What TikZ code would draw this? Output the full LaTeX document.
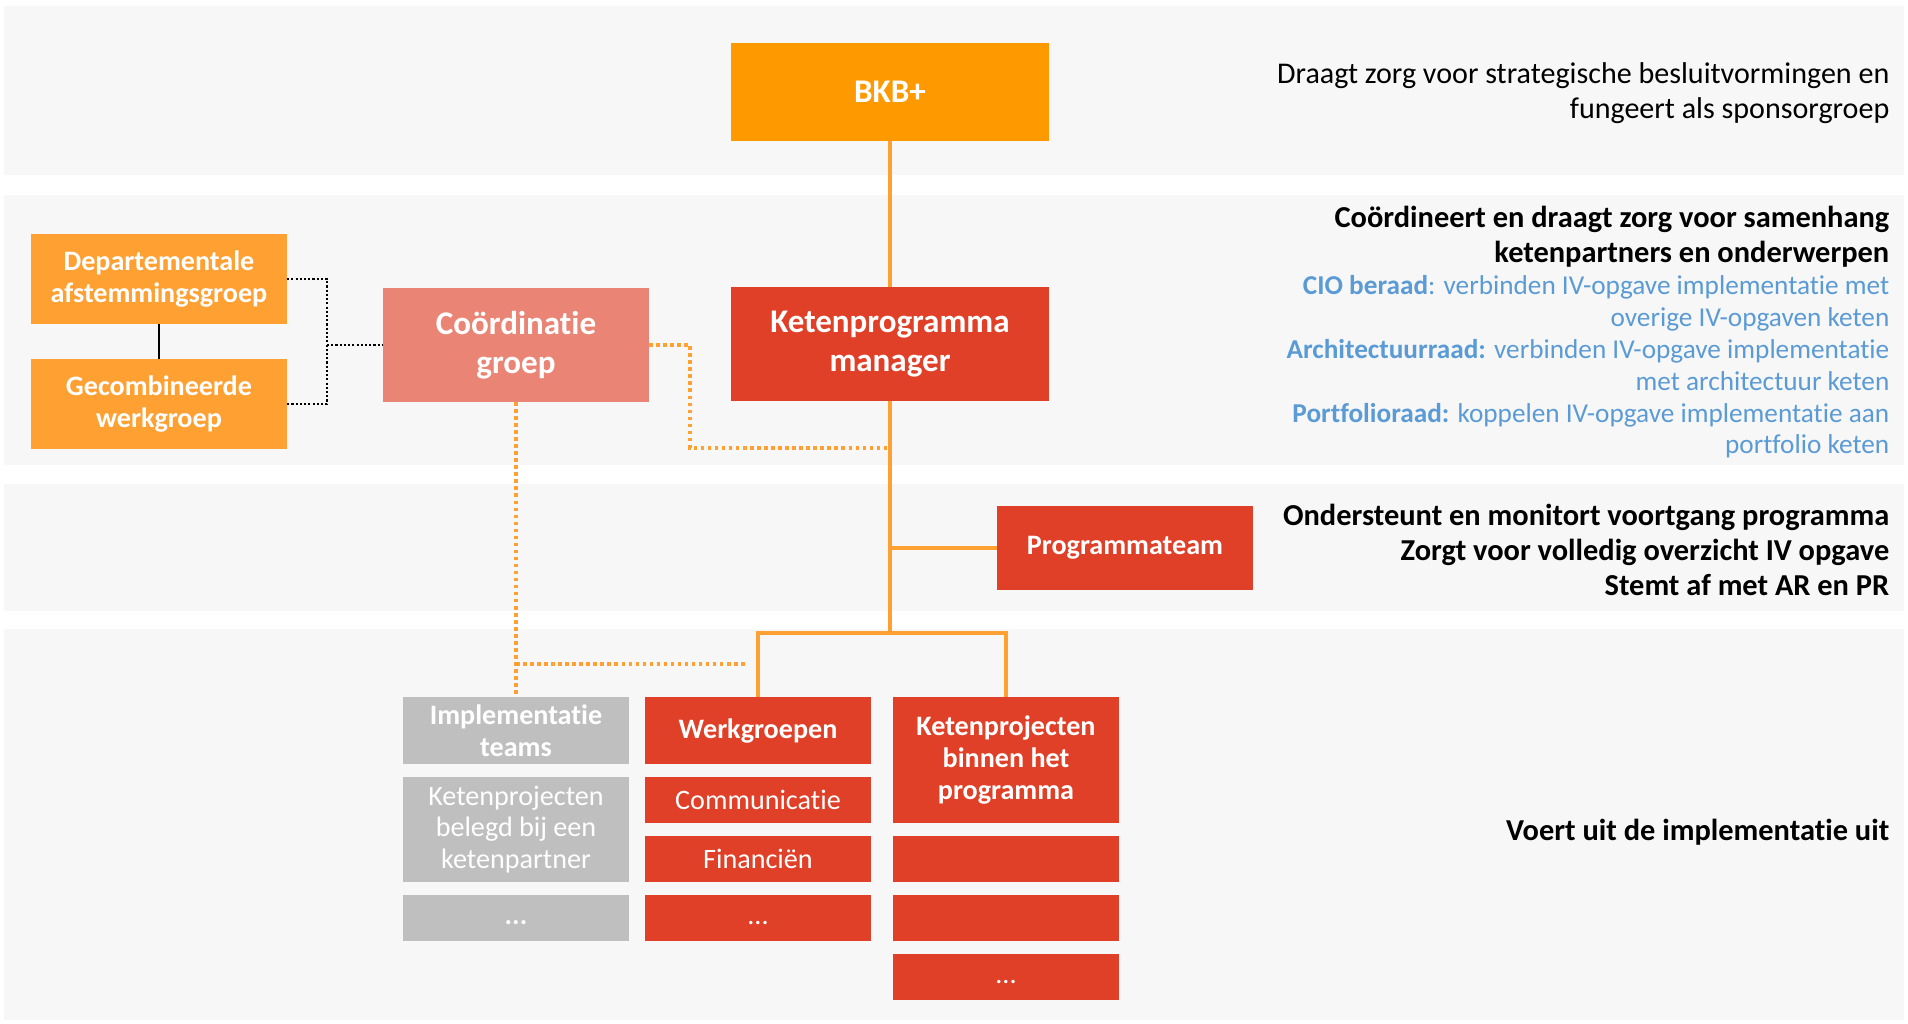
\documentclass[tikz,border=0pt]{standalone}
\usepackage{fontspec}
\setmainfont{Carlito}[Ligatures=NoCommon]
\usepackage{xcolor}
\usetikzlibrary{positioning}

\definecolor{bandgray}{HTML}{F7F7F7}
\definecolor{bkborange}{HTML}{FF9900}
\definecolor{deptorange}{HTML}{FFA033}
\definecolor{coordsalmon}{HTML}{EA8576}
\definecolor{kred}{HTML}{E04028}
\definecolor{kgray}{HTML}{BFBFBF}
\definecolor{lineorange}{HTML}{FFA033}
\definecolor{raadblue}{HTML}{5B9BD5}

\begin{document}
\begin{tikzpicture}[x=0.01cm, y=-0.01cm,
    node distance=0.125cm,
    box/.style={rectangle, inner sep=0pt, outer sep=0pt, text=white, align=center, font=\bfseries\fontsize{8}{9}\selectfont},
    bigbox/.style={box, font=\bfseries\fontsize{9.4}{11}\selectfont},
    redbox/.style={box, fill=kred, minimum width=2.25cm},
    graybox/.style={box, fill=kgray, minimum width=2.25cm},
    lighttext/.style={font=\fontsize{8}{9}\selectfont},
    orangeline/.style={draw=lineorange, line width=1pt},
    dotline/.style={draw=lineorange, line width=0.9pt, dash pattern=on 1pt off 1pt},
    blackdots/.style={draw=black, line width=0.6pt, dash pattern=on 0.6pt off 0.6pt},
    desc/.style={anchor=east, align=right, inner sep=0pt, font=\fontsize{8.55}{9.96}\selectfont},
    descbold/.style={desc, font=\bfseries\fontsize{8.65}{9.96}\selectfont}]
    \useasboundingbox (0,0) rectangle (1908,1024);
    \fill[bandgray] (4,6) rectangle (1904,175);
    \fill[bandgray] (4,195) rectangle (1904,465);
    \fill[bandgray] (4,484) rectangle (1904,611);
    \fill[bandgray] (4,629) rectangle (1904,1020);

    \node[bigbox, fill=bkborange, minimum width=3.18cm, minimum height=0.98cm] (bkb) at (890,92) {BKB+};
    \node[bigbox, fill=kred, minimum width=3.18cm, minimum height=1.13cm] (kpm) at (890,344) {Ketenprogramma\\manager};
    \node[bigbox, fill=coordsalmon, minimum width=2.66cm, minimum height=1.14cm] (coord) at (516,345) {Coördinatie\\groep};
    \node[box, fill=deptorange, minimum width=2.56cm, minimum height=0.9cm] (dept) at (159,279) {Departementale\\afstemmingsgroep};
    \node[box, fill=deptorange, minimum width=2.56cm, minimum height=0.9cm] (gecomb) at (159,404) {Gecombineerde\\werkgroep};
    \node[redbox, minimum width=2.56cm, minimum height=0.84cm] (progteam) at (1125,548) {Programmateam};

    \node[graybox, anchor=north, minimum height=0.67cm] (impl) at (516,697) {Implementatie\\teams};
    \node[graybox, lighttext, below=of impl, minimum height=1.055cm] (ketenpart) {Ketenprojecten\\belegd bij een\\ketenpartner};
    \node[graybox, below=of ketenpart, minimum height=0.465cm] (impldots) {\strut...};

    \node[redbox, anchor=north, minimum height=0.67cm] (werk) at (758,697) {Werkgroepen};
    \node[redbox, lighttext, below=of werk, minimum height=0.465cm] (comm) {Communicatie};
    \node[redbox, lighttext, below=of comm, minimum height=0.465cm] (fin) {Financiën};
    \node[redbox, lighttext, below=of fin, minimum height=0.465cm] (werkdots) {\strut...};

    \node[redbox, anchor=north, minimum height=1.26cm] (ketenprog) at (1006,697) {Ketenprojecten\\binnen het\\programma};
    \node[redbox, below=of ketenprog, minimum height=0.465cm] (kp1) {};
    \node[redbox, below=of kp1, minimum height=0.465cm] (kp2) {};
    \node[redbox, lighttext, below=of kp2, minimum height=0.465cm] (kpdots) {\strut...};

    \coordinate (split) at (890,633);
    \coordinate (cbend) at (690,448);
    \coordinate (dotend) at (746,664);
    \coordinate (brk) at (327,345);
    \draw[orangeline] (bkb) -- (kpm);
    \draw[orangeline] (kpm) -- (split);
    \draw[orangeline] (kpm.south |- progteam.west) -- (progteam.west);
    \draw[orangeline] (werk.north) |- (split) -| (ketenprog.north);
    \draw[dotline] (coord.east) -| (cbend) -- (cbend -| kpm.south);
    \draw[dotline] (coord) -- (impl);
    \draw[dotline] (coord.south |- dotend) -- (dotend);
    \draw[blackdots] (dept.east) -| (brk) |- (gecomb.east);
    \draw[blackdots] (brk) -- (coord.west);
    \draw (dept) -- (gecomb);

    \node[desc] (bkbtxt) at (1890,93) {Draagt zorg voor strategische besluitvormingen en\\fungeert als sponsorgroep};
    \node[descbold] (coordtxt) at (1890,237) {Coördineert en draagt zorg voor samenhang\\ketenpartners en onderwerpen};
    \node[desc, text=raadblue, font=\fontsize{7.75}{9.05}\selectfont] (raadtxt) at (1890,367) {\textbf{CIO beraad}: verbinden IV-opgave implementatie met\\overige IV-opgaven keten\\\textbf{Architectuurraad:} verbinden IV-opgave implementatie\\met architectuur keten\\\textbf{Portfolioraad:} koppelen IV-opgave implementatie aan\\portfolio keten};
    \node[descbold] (progtxt) at (1890,550) {Ondersteunt en monitort voortgang programma\\Zorgt voor volledig overzicht IV opgave\\Stemt af met AR en PR};
    \node[descbold] (uitvtxt) at (1890,832) {Voert uit de implementatie uit};
\end{tikzpicture}
\end{document}
